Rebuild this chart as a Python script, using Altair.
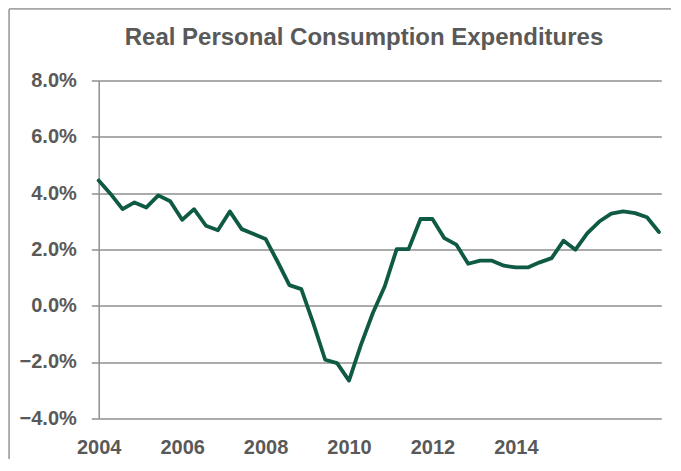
import altair as alt
import pandas as pd

title_text = "Real Personal Consumption Expenditures"

quarters = [f"{y}Q{q}" for y in range(2004, 2016) for q in range(1, 5)]

pce_growth = [
    4.45, 3.97, 3.43, 3.67, 3.49, 3.92, 3.71, 3.05,
    3.43, 2.84, 2.68, 3.35, 2.72, 2.55, 2.37, 1.57,
    0.73, 0.59, -0.62, -1.92, -2.04, -2.66, -1.39, -0.26,
    0.69, 2.01, 2.01, 3.08, 3.08, 2.40, 2.17, 1.49,
    1.60, 1.60, 1.42, 1.36, 1.36, 1.54, 1.69, 2.31,
    1.99, 2.58, 2.99, 3.27, 3.35, 3.29, 3.14, 2.62,
]

# category labels as shown on the original axis (one label every 7 quarters)
x_tick_quarters = ["2004Q1", "2005Q4", "2007Q3", "2009Q2", "2011Q1", "2012Q4"]
x_tick_labels = ["2004", "2006", "2008", "2010", "2012", "2014"]
y_ticks = [-4, -2, 0, 2, 4, 6, 8]


def q_to_t(q):
    return int(q[:4]) + (int(q[-1]) - 1) / 4


df = pd.DataFrame({
    "quarter": quarters,
    "t": [q_to_t(q) for q in quarters],
    "value": pce_growth,
})

x_tick_pos = [q_to_t(q) for q in x_tick_quarters]
label_expr = (
    "[" + ", ".join(f"'{l}'" for l in x_tick_labels) + "]"
    + "[indexof([" + ", ".join(repr(p) for p in x_tick_pos) + "], datum.value)]"
)

W = 562.6
H = 337.8
FONT = "Liberation Sans"
TEXT = "#595959"
GRID = "#8f8f8f"

line = alt.Chart(df).mark_line(
    color="#0f5a44", strokeWidth=3.8, strokeJoin="round", strokeCap="round"
).encode(
    x=alt.X("t:Q",
            scale=alt.Scale(domain=[2004, 2015.8], nice=False, zero=False),
            axis=alt.Axis(values=x_tick_pos, title=None,
                          labelExpr=label_expr,
                          grid=False, ticks=False, domain=False,
                          labelPadding=19, labelFontSize=20,
                          labelFontWeight="bold", labelColor=TEXT,
                          labelFont=FONT, labelFlush=False)),
    y=alt.Y("value:Q",
            scale=alt.Scale(domain=[-4, 8], nice=False, zero=False),
            axis=alt.Axis(values=y_ticks, title=None,
                          labelExpr="format(datum.value, '.1f') + '%'",
                          grid=True, gridColor=GRID, gridWidth=1.5,
                          ticks=True, tickSize=7.4, tickColor=GRID, tickWidth=1.5,
                          domain=True, domainColor=GRID, domainWidth=1.5,
                          labelPadding=15, labelFontSize=20,
                          labelFontWeight="bold", labelColor=TEXT,
                          labelFont=FONT)),
)

one = pd.DataFrame({"a": [0]})

title_mark = alt.Chart(pd.DataFrame({"label": [title_text]})).mark_text(
    font=FONT, fontSize=24, fontWeight="bold", color=TEXT,
    align="center", baseline="alphabetic"
).encode(
    text="label:N",
    x=alt.value(265.3),
    y=alt.value(-35.5),
)

border_left = alt.Chart(one).mark_rule(color="#a6a6a6", strokeWidth=1.8).encode(
    x=alt.value(-89.6), y=alt.value(-71.6), y2=alt.value(H + 60)
)
border_top = alt.Chart(one).mark_rule(color="#a6a6a6", strokeWidth=1.8).encode(
    x=alt.value(-89.6), x2=alt.value(W + 60), y=alt.value(-71.6)
)

chart = alt.layer(border_left, border_top, title_mark, line).properties(
    width=W,
    height=H,
    autosize=alt.AutoSizeParams(type="none"),
    padding={"left": 90.7, "top": 72.5, "right": 10, "bottom": 41},
    background="white",
).configure_view(stroke=None)

chart.save("out.html", embed_options={"renderer": "svg", "actions": False})
